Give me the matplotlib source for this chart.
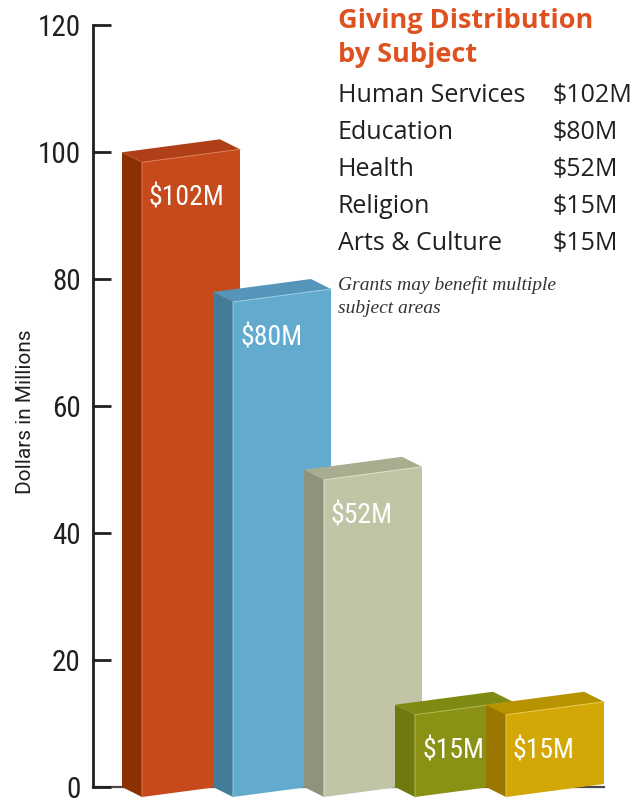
import matplotlib
matplotlib.use('Agg')
import matplotlib.pyplot as plt
from matplotlib.patches import Polygon

# Giving by subject, in millions of dollars
subjects = ['Human Services', 'Education', 'Health', 'Religion', 'Arts & Culture']
amounts = [102, 80, 52, 15, 15]
bar_labels = ['$102M', '$80M', '$52M', '$15M', '$15M']

front_colors = ['#C64A1B', '#62ABCF', '#C1C4A5', '#8A9114', '#D3A806']
side_colors = ['#8C3002', '#437B98', '#8F937B', '#70790D', '#9A7700']
top_colors = ['#AE3F17', '#5595B9', '#A9AC8F', '#7E8A12', '#B89300']
edge_colors = ['#E07A55', '#9CCBE3', '#DDE0C8', '#B0B750', '#E8C850']

y_ticks = [0, 20, 40, 60, 80, 100, 120]

W_PX, H_PX = 633, 800
DARK = '#231F20'
NARROW = ['Roboto Condensed', 'Roboto', 'DejaVu Sans']

fig = plt.figure(figsize=(W_PX / 100, H_PX / 100), dpi=100)

# axes: left spine at x=93px, value 0 at y=787px, value 120 at y=25px
ax_left = 93
ax = fig.add_axes([ax_left / W_PX, (H_PX - 787) / H_PX,
                   (W_PX - ax_left) / W_PX, (787 - 25) / H_PX])
ax.set_xlim(0, W_PX - ax_left)
ax.set_ylim(0, 120)
px_per_unit = (787 - 25) / 120

# pseudo-3d geometry (x in pixels from the spine, y in dollars)
first_x = 29
step = 91
face_w = 98
depth_dx = 20
depth_dy = -10 / px_per_unit
rise = 13 / px_per_unit

# baseline behind the bars
ax.plot([0, first_x + step * (len(amounts) - 1) + face_w + depth_dx], [0, 0],
        color='#4a4a4a', lw=1.6, zorder=0.5, clip_on=False)

for i, (v, lab) in enumerate(zip(amounts, bar_labels)):
    xb = first_x + i * step
    xf = xb + depth_dx
    top_l = v - rise
    side = [(xb, 0), (xf, depth_dy), (xf, depth_dy + top_l), (xb, top_l)]
    top = [(xb, top_l), (xb + face_w, v), (xf + face_w, depth_dy + v),
           (xf, depth_dy + top_l)]
    front = [(xf, depth_dy), (xf + face_w, depth_dy + rise),
             (xf + face_w, depth_dy + v), (xf, depth_dy + top_l)]
    z = 1 + i
    ax.add_patch(Polygon(side, closed=True, facecolor=side_colors[i],
                         edgecolor='none', zorder=z, clip_on=False))
    ax.add_patch(Polygon(top, closed=True, facecolor=top_colors[i],
                         edgecolor='none', zorder=z, clip_on=False))
    ax.add_patch(Polygon(front, closed=True, facecolor=front_colors[i],
                         edgecolor='none', zorder=z, clip_on=False))
    # light edge along the front face's top and left
    ax.plot([xf, xf, xf + face_w], [depth_dy, depth_dy + top_l, depth_dy + v],
            color=edge_colors[i], lw=0.7, zorder=z + 0.1, clip_on=False)
    ax.text(xf + 7, depth_dy + top_l - 36 / px_per_unit, lab, color='white',
            family=NARROW, fontsize=20, ha='left', va='center', zorder=z + 0.2)

# axis styling
for s in ['top', 'right', 'bottom']:
    ax.spines[s].set_visible(False)
ax.spines['left'].set_color(DARK)
ax.spines['left'].set_linewidth(2.0)
ax.set_xticks([])
ax.set_yticks(y_ticks)
ax.tick_params(axis='y', direction='in', length=13, width=2.0, color=DARK,
               pad=9, labelsize=21, labelcolor=DARK)
for t in ax.get_yticklabels():
    t.set_family(NARROW)
ax.patch.set_alpha(0)

def px(x, y):
    return x / W_PX, 1 - y / H_PX

fig.text(*px(26, 412), 'Dollars in Millions', rotation=90, ha='center',
         va='center', fontsize=15, family=['Roboto', 'DejaVu Sans'], color=DARK)

# title and legend list
list_font = ['Open Sans', 'DejaVu Sans']
fig.text(*px(338, 28), 'Giving Distribution', fontsize=19.5, fontweight='bold',
         color='#DD5220', family=list_font, va='baseline')
fig.text(*px(338, 62), 'by Subject', fontsize=19.5, fontweight='bold',
         color='#DD5220', family=list_font, va='baseline')

row_y = [102, 139, 176, 213, 250]
for name, lab, y in zip(subjects, bar_labels, row_y):
    fig.text(*px(338, y), name, fontsize=18, color=DARK, family=list_font,
             va='baseline')
    fig.text(*px(553, y), lab, fontsize=18, color=DARK, family=list_font,
             va='baseline')

note_font = ['Liberation Serif', 'DejaVu Serif']
fig.text(*px(338, 290), 'Grants may benefit multiple', fontsize=14,
         style='italic', color='#333333', family=note_font, va='baseline')
fig.text(*px(338, 313), 'subject areas', fontsize=14,
         style='italic', color='#333333', family=note_font, va='baseline')

fig.savefig('out.png', dpi=100)
